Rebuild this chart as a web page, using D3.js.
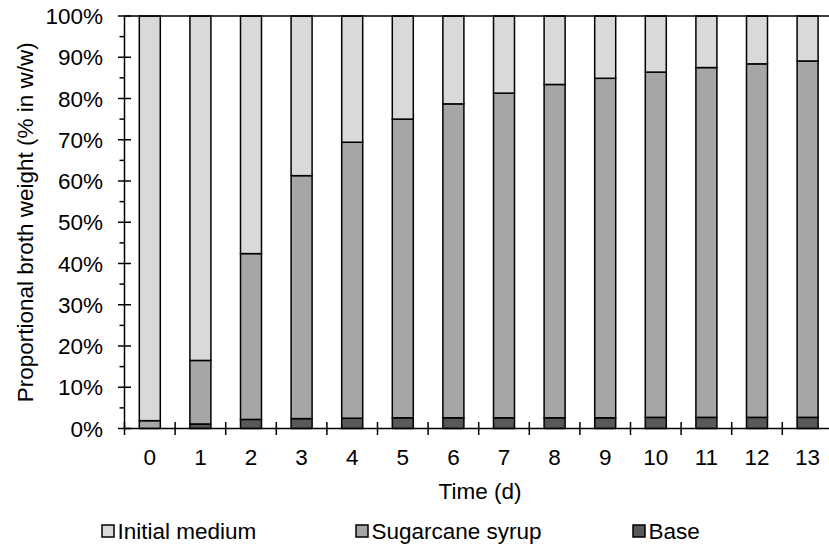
<!DOCTYPE html>
<html><head><meta charset="utf-8">
<script src="https://cdn.jsdelivr.net/npm/d3@7"></script>
<style>
html,body{margin:0;padding:0;background:#fff;overflow:hidden;}
text{font-family:"Liberation Sans",Arial,sans-serif;fill:#000;}
</style></head>
<body>
<svg id="c" width="829" height="544"></svg>
<script>
const days = ["0","1","2","3","4","5","6","7","8","9","10","11","12","13"];
const base = [0, 1.1, 2.2, 2.4, 2.5, 2.6, 2.6, 2.6, 2.6, 2.6, 2.7, 2.7, 2.7, 2.7];
const syrup = [1.9, 15.4, 40.2, 58.9, 66.9, 72.4, 76.1, 78.7, 80.8, 82.3, 83.7, 84.8, 85.7, 86.4];
const initial = [98.1, 83.5, 57.6, 38.7, 30.6, 25.0, 21.3, 18.7, 16.6, 15.1, 13.6, 12.5, 11.6, 10.9];
const seriesNames = ["Base", "Sugarcane syrup", "Initial medium"];
const seriesColors = ["#595959", "#a6a6a6", "#d9d9d9"];
const yTicks = [0,10,20,30,40,50,60,70,80,90,100];

const rows = days.map((d,i)=>({day:d, "Base":base[i], "Sugarcane syrup":syrup[i], "Initial medium":initial[i]}));
const svg = d3.select("#c");
const L = 124.5, T = 16, B = 428.5, band = 50.6;
const FS = 22.5;
const x = d3.scaleBand().domain(days).range([L, L + band*days.length]).paddingInner(0.585).paddingOuter(0.2925);
const y = d3.scaleLinear().domain([0,100]).range([B, T]);
const color = d3.scaleOrdinal().domain(seriesNames).range(seriesColors);

const stack = d3.stack().keys(seriesNames)(rows);
svg.append("g").selectAll("g").data(stack).join("g")
  .attr("fill", d=>color(d.key))
  .selectAll("rect").data(d=>d.map(v=>({v, key:d.key}))).join("rect")
  .attr("x", d=>x(d.v.data.day))
  .attr("width", x.bandwidth())
  .attr("y", d=>y(d.v[1]))
  .attr("height", d=>Math.max(0, y(d.v[0]) - y(d.v[1])))
  .attr("stroke", "#000").attr("stroke-width", 1.5)
  .attr("display", d=> (d.v[1]-d.v[0])>0 ? null : "none");

// top border
svg.append("line").attr("x1", L).attr("x2", 829).attr("y1", T).attr("y2", T)
  .attr("stroke","#000").attr("stroke-width",1.5);

// Y axis
const ya = svg.append("g").attr("transform", `translate(${L},0)`);
ya.append("line").attr("y1", T).attr("y2", B).attr("stroke","#000").attr("stroke-width",1.5);
ya.selectAll("line.maj").data(yTicks).join("line").attr("class","maj")
  .attr("x1",-6.5).attr("x2",6.5).attr("y1",d=>y(d)).attr("y2",d=>y(d)).attr("stroke","#000").attr("stroke-width",1.5);
ya.selectAll("line.min").data(yTicks.slice(0,-1).map(d=>d+5)).join("line").attr("class","min")
  .attr("x1",-5).attr("x2",0).attr("y1",d=>y(d)).attr("y2",d=>y(d)).attr("stroke","#000").attr("stroke-width",1.5);
ya.selectAll("text").data(yTicks).join("text")
  .attr("x", -21.5).attr("y", d=>y(d)).attr("dy","0.36em").attr("text-anchor","end")
  .attr("font-size", FS).text(d=>d+"%");

// X axis
const xa = svg.append("g");
xa.append("line").attr("x1", L).attr("x2", 829).attr("y1", B).attr("y2", B).attr("stroke","#000").attr("stroke-width",1.5);
const bounds = d3.range(days.length+1).map(i=>L + i*band);
xa.selectAll("line.t").data(bounds).join("line").attr("class","t")
  .attr("x1",d=>d).attr("x2",d=>d).attr("y1",B-6.5).attr("y2",B+6.5).attr("stroke","#000").attr("stroke-width",1.5);
xa.selectAll("text").data(days).join("text")
  .attr("x", d=>x(d)+x.bandwidth()/2).attr("y", 465).attr("text-anchor","middle")
  .attr("font-size", FS).text(d=>d);

svg.append("text").attr("x", 480).attr("y", 498.5).attr("text-anchor","middle").attr("font-size",FS).text("Time (d)");
svg.append("text").attr("transform", `translate(33,${(T+B)/2}) rotate(-90)`).attr("text-anchor","middle")
  .attr("font-size",FS).text("Proportional broth weight (% in w/w)");

// Legend
const legendItems = [
  {name:"Initial medium", x:102},
  {name:"Sugarcane syrup", x:356},
  {name:"Base", x:633}
];
const lg = svg.append("g").selectAll("g").data(legendItems).join("g").attr("transform", d=>`translate(${d.x},525)`);
lg.append("rect").attr("width",12).attr("height",12).attr("fill",d=>color(d.name)).attr("stroke","#000").attr("stroke-width",1.5);
lg.append("text").attr("x",15.5).attr("y",14).attr("font-size",FS).text(d=>d.name);
</script>
</body></html>
